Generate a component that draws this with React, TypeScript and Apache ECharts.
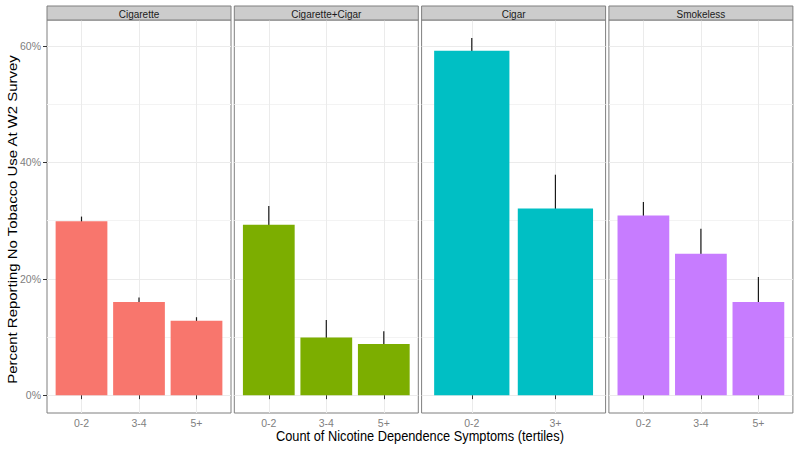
import React, { useEffect, useRef } from "react";
import * as echarts from "echarts";

const panels = ["Cigarette", "Cigarette+Cigar", "Cigar", "Smokeless"];
const colors = ["#F8766D", "#7CAE00", "#00BFC4", "#C77CFF"];
const cigaretteCats = ["0-2", "3-4", "5+"];
const cigCigarCats = ["0-2", "3-4", "5+"];
const cigarCats = ["0-2", "3+"];
const smokelessCats = ["0-2", "3-4", "5+"];
const cigaretteVals = [29.9, 16.0, 12.8];
const cigCigarVals = [29.3, 9.9, 8.8];
const cigarVals = [59.2, 32.1];
const smokelessVals = [30.9, 24.3, 16.0];
const cigaretteUpper = [30.7, 16.8, 13.4];
const cigCigarUpper = [32.5, 12.9, 11.0];
const cigarUpper = [61.4, 37.9];
const smokelessUpper = [33.2, 28.6, 20.3];
const yTicks = [0, 20, 40, 60];
const yMinorTicks = [10, 30, 50];

const categories = [cigaretteCats, cigCigarCats, cigarCats, smokelessCats];
const values = [cigaretteVals, cigCigarVals, cigarVals, smokelessVals];
const uppers = [cigaretteUpper, cigCigarUpper, cigarUpper, smokelessUpper];

const FONT = "'Liberation Sans', Arial, Helvetica, sans-serif";

export default function App() {
  const ref = useRef<HTMLDivElement>(null);
  useEffect(() => {
    if (!ref.current) return;
    const chart = echarts.init(ref.current, null, { renderer: "svg" });
    const left0 = 47;
    const step = 187.3;
    const pw = 184;
    const top = 20;
    const ph = 393;
    const yMin = -3.07;
    const yMax = 64.5;

    const grids: any[] = [];
    const xAxes: any[] = [];
    const yAxes: any[] = [];
    const series: any[] = [];
    const graphics: any[] = [];

    panels.forEach((name, i) => {
      const left = left0 + i * step;
      const cats = categories[i];
      const n = cats.length;
      grids.push({
        left,
        top,
        width: pw,
        height: ph,
        show: true,
        borderColor: "#7f7f7f",
        borderWidth: 1,
        backgroundColor: "#ffffff",
        containLabel: false,
      });
      xAxes.push({
        type: "value",
        gridIndex: i,
        min: 0.4,
        max: n + 0.6,
        axisLine: { show: false },
        axisTick: {
          show: true,
          customValues: cats.map((_, k) => k + 1),
          length: 4,
          lineStyle: { color: "#333333", width: 1 },
        },
        axisLabel: {
          show: true,
          customValues: cats.map((_, k) => k + 1),
          formatter: (v: number) => cats[Math.round(v) - 1] ?? "",
          color: "#808080",
          fontSize: 10.5,
          fontFamily: FONT,
          margin: 4,
        },
        splitLine: { show: true, lineStyle: { color: "#ebebeb", width: 1 } },
      });
      yAxes.push({
        type: "value",
        gridIndex: i,
        min: yMin,
        max: yMax,
        position: "left",
        axisLine: { show: false },
        axisTick: {
          show: i === 0,
          customValues: yTicks,
          length: 4,
          lineStyle: { color: "#333333", width: 1 },
        },
        axisLabel: {
          show: i === 0,
          customValues: yTicks,
          formatter: (v: number) => v + "%",
          color: "#808080",
          fontSize: 10.5,
          fontFamily: FONT,
          margin: 6,
        },
        splitLine: { show: true, lineStyle: { color: "#ebebeb", width: 1 } },
      });
      yAxes.push({
        type: "value",
        gridIndex: i,
        min: yMin,
        max: yMax,
        position: "left",
        axisLine: { show: false },
        axisTick: { show: false, customValues: yMinorTicks },
        axisLabel: { show: false, customValues: yMinorTicks },
        splitLine: { show: true, lineStyle: { color: "#f3f3f3", width: 1 } },
      });

      const vals = values[i];
      const ups = uppers[i];
      series.push({
        type: "custom",
        xAxisIndex: i,
        yAxisIndex: i * 2,
        z: 1,
        data: vals.map((v, k) => [k + 1, v - (ups[k] - v), ups[k]]),
        renderItem: (params: any, api: any) => {
          const x = api.value(0);
          const lo = api.coord([x, api.value(1)]);
          const hi = api.coord([x, api.value(2)]);
          return {
            type: "line",
            shape: { x1: lo[0], y1: lo[1], x2: hi[0], y2: hi[1] },
            style: { stroke: "#1a1a1a", lineWidth: 1.2 },
          };
        },
      });
      series.push({
        type: "bar",
        xAxisIndex: i,
        yAxisIndex: i * 2,
        z: 2,
        barWidth: (0.9 * pw) / (n + 0.2),
        itemStyle: { color: colors[i] },
        data: vals.map((v, k) => [k + 1, v]),
      });

      graphics.push({
        type: "rect",
        shape: { x: left, y: 6, width: pw, height: 14 },
        style: { fill: "#cccccc", stroke: "#7f7f7f", lineWidth: 1 },
        z: 10,
      });
      graphics.push({
        type: "text",
        x: left + pw / 2,
        y: 13.5,
        scaleY: 1.15,
        style: {
          text: name,
          fill: "#1a1a1a",
          font: `10px ${FONT}`,
          align: "center",
          verticalAlign: "middle",
        },
        z: 11,
      });
    });

    graphics.push({
      type: "text",
      x: 12,
      y: top + ph / 2 + 3,
      rotation: Math.PI / 2,
      scaleX: 1.15,
      style: {
        text: "Percent Reporting No Tobacco Use At W2 Survey",
        fill: "#000000",
        font: `13px ${FONT}`,
        align: "center",
        verticalAlign: "middle",
      },
    });
    graphics.push({
      type: "text",
      x: left0 + (3 * step + pw) / 2,
      y: 436,
      scaleY: 1.15,
      style: {
        text: "Count of Nicotine Dependence Symptoms (tertiles)",
        fill: "#000000",
        font: `12.8px ${FONT}`,
        align: "center",
        verticalAlign: "middle",
      },
    });

    chart.setOption({
      animation: false,
      backgroundColor: "#ffffff",
      textStyle: { fontFamily: FONT },
      grid: grids,
      xAxis: xAxes,
      yAxis: yAxes,
      series,
      graphic: graphics,
    });
    return () => chart.dispose();
  }, []);
  return (
    <div
      ref={ref}
      style={{ position: "fixed", left: 0, top: 0, width: 800, height: 449 }}
    />
  );
}
